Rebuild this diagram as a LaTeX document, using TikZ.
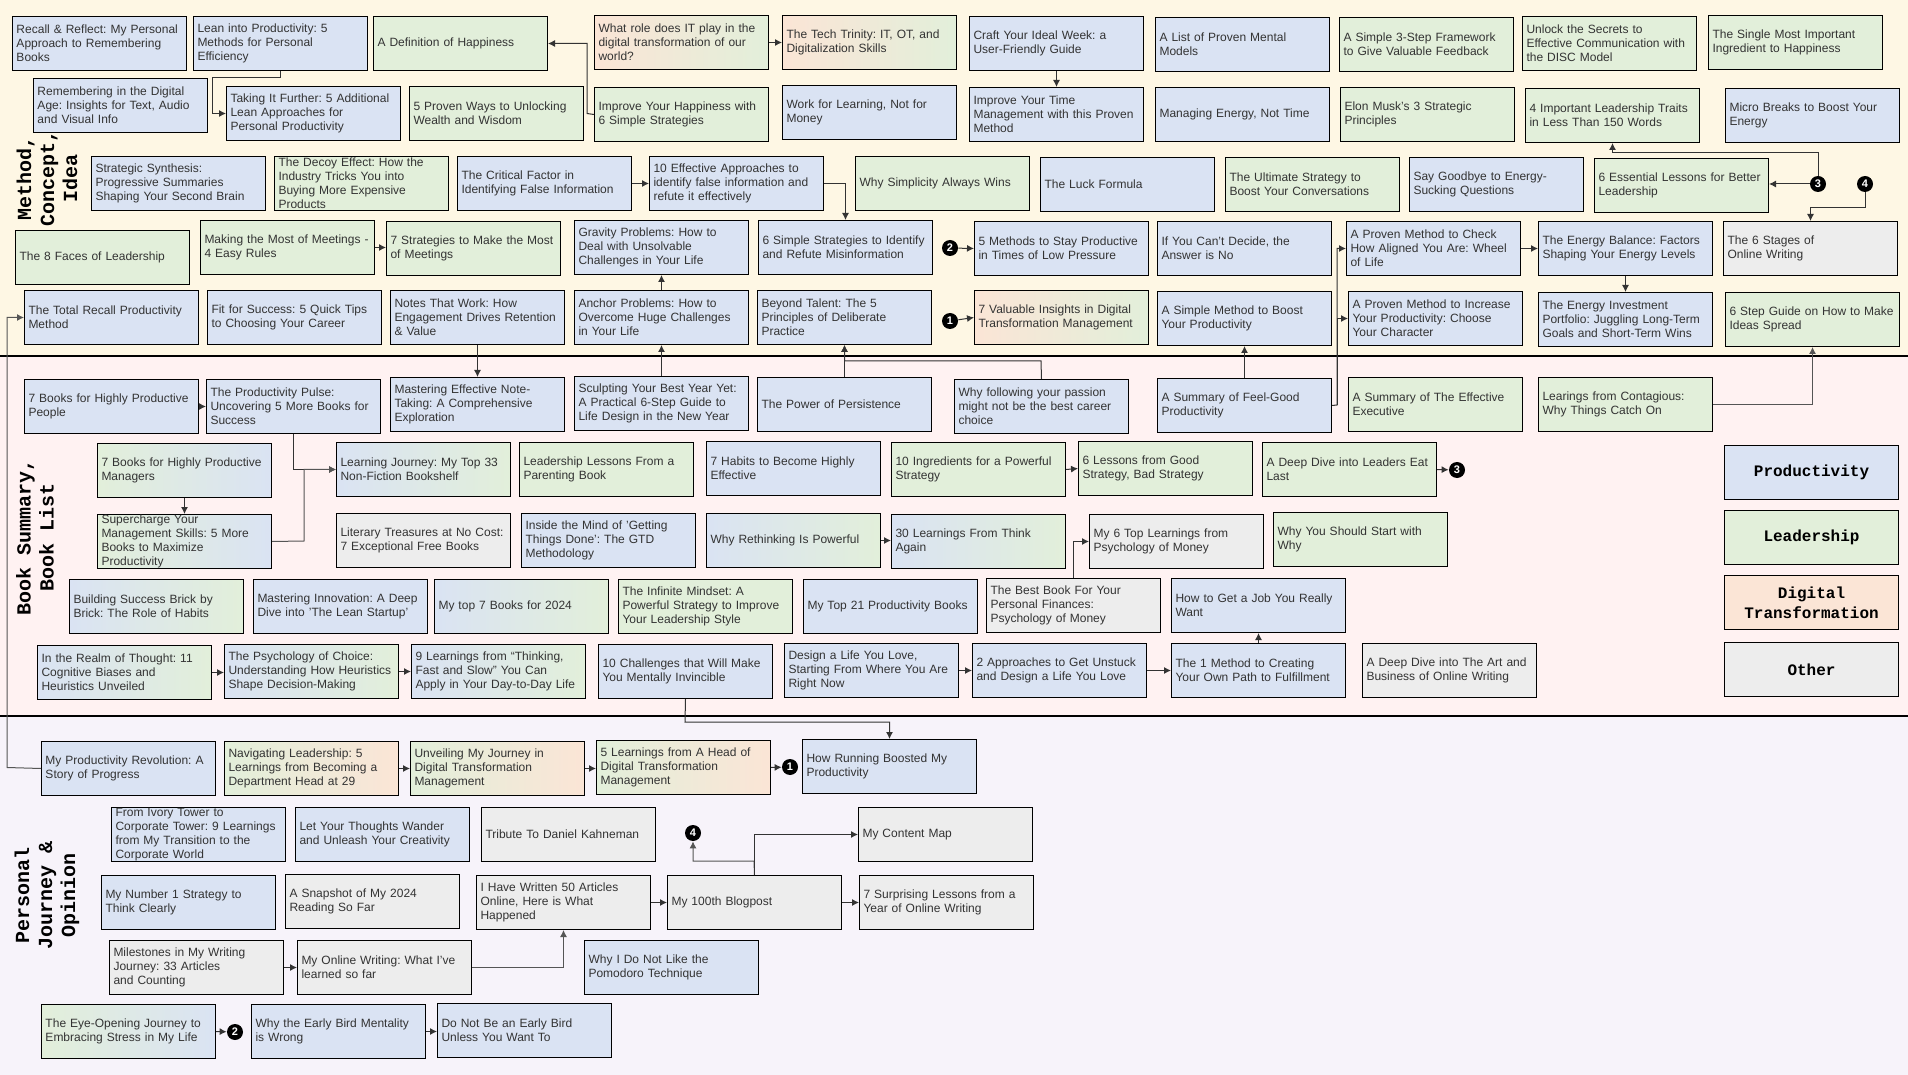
\documentclass[tikz,border=0pt]{standalone}
\usepackage{fontspec}
\setmainfont{Liberation Sans}
\newfontfamily\courfam{Liberation Mono}
\usetikzlibrary{arrows.meta}
\definecolor{cblue}{HTML}{DAE3F3}
\definecolor{cgreen}{HTML}{E2EFDA}
\definecolor{corange}{HTML}{FBE5D6}
\definecolor{cgray}{HTML}{EDEDED}
\definecolor{bgtop}{HTML}{FEF7E4}
\definecolor{bgmid}{HTML}{FFF2F2}
\definecolor{bgbot}{HTML}{F7F3FA}
\definecolor{txt}{HTML}{333333}
\definecolor{lc}{HTML}{333333}
\definecolor{lcg}{HTML}{555555}
\frenchspacing
\newcommand\boxfont{\fontsize{6}{7}\selectfont\frenchspacing\hyphenpenalty=10000\exhyphenpenalty=10000\tolerance=10000}
\newcommand\numfont{\bfseries\fontsize{5.5}{6}\selectfont}
\newcommand\lgdfont{\courfam\bfseries\fontsize{8}{10}\selectfont}
\newcommand\secfont{\courfam\bfseries\fontsize{10}{11.5}\selectfont}
\tikzset{
  bx/.style={draw=black, line width=0.5pt, anchor=north west, minimum width=87pt, minimum height=27pt,
    text width=83pt, inner xsep=2pt, inner ysep=0pt, align=left, font=\boxfont, text=txt},
  fB/.style={fill=cblue}, fG/.style={fill=cgreen}, fO/.style={fill=corange}, fX/.style={fill=cgray},
  fOG/.style={left color=corange, right color=cgreen},
  fGB/.style={left color=cgreen, right color=cblue},
  fBG/.style={left color=cblue, right color=cgreen},
  fGO/.style={left color=cgreen, right color=corange},
  arr/.style={draw=lc, line width=0.5pt, -{Latex[length=3.5pt,width=3.5pt]}},
  arrg/.style={arr, draw=lcg},
  num/.style={circle, fill=black, text=white, minimum size=8pt, inner sep=0pt, font=\numfont},
  lgd/.style={draw=black, line width=0.5pt, anchor=north west, minimum width=87pt, minimum height=27pt,
    align=center, font=\lgdfont, text=black},
  sec/.style={rotate=90, align=center, font=\secfont, text=black}
}
\begin{document}
\begin{tikzpicture}[x=0.5pt,y=-0.5pt]
\useasboundingbox (0,0) rectangle (1908,1075);
\fill[bgtop] (0,0) rectangle (1908,356);
\fill[bgmid] (0,356) rectangle (1908,716);
\fill[bgbot] (0,716) rectangle (1908,1075);
\draw[line width=1pt] (0,356) -- (1908,356);
\draw[line width=1pt] (0,716) -- (1908,716);

\node[sec] (secA) at (47,178) {Method,\\Concept,\\Idea};
\node[sec] (secB) at (35,537) {Book Summary,\\Book List};
\node[sec] (secC) at (47,895) {Personal\\Journey \&\\Opinion};

% ---------- Top section ----------
\node[bx,fB] (Recall) at (12,16) {Recall \& Reflect: My Personal\\Approach to Remembering\\Books};
\node[bx,fB] (Lean) at (193,16) {Lean into Productivity: 5\\Methods for Personal\\Efficiency};
\node[bx,fG] (Definition) at (373,16) {A Definition of Happiness};
\node[bx,fOG] (WhatRole) at (594,15) {What role does IT play in the\\digital transformation of our\\world?};
\node[bx,fOG] (TechTrinity) at (782,15) {The Tech Trinity: IT, OT, and\\Digitalization Skills};
\node[bx,fB] (Craft) at (969,16) {Craft Your Ideal Week: a\\User-Friendly Guide};
\node[bx,fB] (Mental) at (1155,17) {A List of Proven Mental\\Models};
\node[bx,fG] (Feedback) at (1339,17) {A Simple 3-Step Framework\\to Give Valuable Feedback};
\node[bx,fG] (DISC) at (1522,16) {Unlock the Secrets to\\Effective Communication with\\the DISC Model};
\node[bx,fG] (SingleMost) at (1708,15) {The Single Most Important\\Ingredient to Happiness};

\node[bx,fB] (Remembering) at (33,78) {Remembering in the Digital\\Age: Insights for Text, Audio\\and Visual Info};
\node[bx,fB] (TakingIt) at (226,86) {Taking It Further: 5 Additional\\Lean Approaches for\\Personal Productivity};
\node[bx,fG] (ProvenWays) at (409,86) {5 Proven Ways to Unlocking\\Wealth and Wisdom};
\node[bx,fG] (ImproveHappiness) at (594,87) {Improve Your Happiness with\\6 Simple Strategies};
\node[bx,fB] (WorkLearning) at (782,85) {Work for Learning, Not for\\Money};
\node[bx,fB] (ImproveTime) at (969,87) {Improve Your Time\\Management with this Proven\\Method};
\node[bx,fB] (ManagingEnergy) at (1155,87) {Managing Energy, Not Time};
\node[bx,fG] (ElonMusk) at (1340,87) {Elon Musk's 3 Strategic\\Principles};
\node[bx,fG] (FourTraits) at (1525,88) {4 Important Leadership Traits\\in Less Than 150 Words};
\node[bx,fB] (MicroBreaks) at (1725,88) {Micro Breaks to Boost Your\\Energy};

\node[bx,fB] (Strategic) at (91,156) {Strategic Synthesis:\\Progressive Summaries\\Shaping Your Second Brain};
\node[bx,fG] (Decoy) at (274,156) {The Decoy Effect: How the\\Industry Tricks You into\\Buying More Expensive\\Products};
\node[bx,fB] (Critical) at (457,156) {The Critical Factor in\\Identifying False Information};
\node[bx,fB] (TenEffective) at (649,156) {10 Effective Approaches to\\identify false information and\\refute it effectively};
\node[bx,fG] (Simplicity) at (855,156) {Why Simplicity Always Wins};
\node[bx,fB] (Luck) at (1040,157) {The Luck Formula};
\node[bx,fG] (Ultimate) at (1225,157) {The Ultimate Strategy to\\Boost Your Conversations};
\node[bx,fB] (SayGoodbye) at (1409,157) {Say Goodbye to Energy-\\Sucking Questions};
\node[bx,fG] (SixEssential) at (1594,158) {6 Essential Lessons for Better\\Leadership};

\node[bx,fG] (EightFaces) at (15,230) {The 8 Faces of Leadership};
\node[bx,fG] (MakingMost) at (200,220) {Making the Most of Meetings -\\4 Easy Rules};
\node[bx,fG] (SevenStrategies) at (386,221) {7 Strategies to Make the Most\\of Meetings};
\node[bx,fB] (Gravity) at (574,220) {Gravity Problems: How to\\Deal with Unsolvable\\Challenges in Your Life};
\node[bx,fB] (SixSimple) at (758,220) {6 Simple Strategies to Identify\\and Refute Misinformation};
\node[bx,fB] (FiveMethods) at (974,221) {5 Methods to Stay Productive\\in Times of Low Pressure};
\node[bx,fB] (CantDecide) at (1157,221) {If You Can't Decide, the\\Answer is No};
\node[bx,fB] (Wheel) at (1346,221) {A Proven Method to Check\\How Aligned You Are: Wheel\\of Life};
\node[bx,fB] (EnergyBalance) at (1538,221) {The Energy Balance: Factors\\Shaping Your Energy Levels};
\node[bx,fX] (SixStages) at (1723,221) {The 6 Stages of\\Online Writing};

\node[bx,fB] (TotalRecall) at (24,290) {The Total Recall Productivity\\Method};
\node[bx,fB] (FitSuccess) at (207,290) {Fit for Success: 5 Quick Tips\\to Choosing Your Career};
\node[bx,fB] (NotesWork) at (390,290) {Notes That Work: How\\Engagement Drives Retention\\\& Value};
\node[bx,fB] (Anchor) at (574,290) {Anchor Problems: How to\\Overcome Huge Challenges\\in Your Life};
\node[bx,fB] (BeyondTalent) at (757,290) {Beyond Talent: The 5\\Principles of Deliberate\\Practice};
\node[bx,fOG] (SevenValuable) at (974,290) {7 Valuable Insights in Digital\\Transformation Management};
\node[bx,fB] (SimpleMethod) at (1157,291) {A Simple Method to Boost\\Your Productivity};
\node[bx,fB] (ChooseChar) at (1348,291) {A Proven Method to Increase\\Your Productivity: Choose\\Your Character};
\node[bx,fB] (EnergyInvest) at (1538,292) {The Energy Investment\\Portfolio: Juggling Long-Term\\Goals and Short-Term Wins};
\node[bx,fG] (SixStep) at (1725,292) {6 Step Guide on How to Make\\Ideas Spread};

\node[num] (c3a) at (1818,184) {3};
\node[num] (c4a) at (1865,184) {4};
\node[num] (c2a) at (950,248) {2};
\node[num] (c1a) at (950,321) {1};

% ---------- Middle section ----------
\node[bx,fB] (SevenBooksPeople) at (24,379) {7 Books for Highly Productive\\People};
\node[bx,fB] (Pulse) at (206,379) {The Productivity Pulse:\\Uncovering 5 More Books for\\Success};
\node[bx,fB] (MasteringNote) at (390,377) {Mastering Effective Note-\\Taking: A Comprehensive\\Exploration};
\node[bx,fB] (Sculpting) at (574,376) {Sculpting Your Best Year Yet:\\A Practical 6-Step Guide to\\Life Design in the New Year};
\node[bx,fB] (Persistence) at (757,377) {The Power of Persistence};
\node[bx,fB] (Passion) at (954,379) {Why following your passion\\might not be the best career\\choice};
\node[bx,fB] (FeelGood) at (1157,378) {A Summary of Feel-Good\\Productivity};
\node[bx,fG] (EffectiveExec) at (1348,377) {A Summary of The Effective\\Executive};
\node[bx,fG] (Contagious) at (1538,377) {Learings from Contagious:\\Why Things Catch On};

\node[bx,fGB] (Managers) at (97,443) {7 Books for Highly Productive\\Managers};
\node[bx,fBG] (LearningJourney) at (336,442) {Learning Journey: My Top 33\\Non-Fiction Bookshelf};
\node[bx,fG] (Parenting) at (519,442) {Leadership Lessons From a\\Parenting Book};
\node[bx,fB] (SevenHabits) at (706,441) {7 Habits to Become Highly\\Effective};
\node[bx,fG] (TenIngredients) at (891,442) {10 Ingredients for a Powerful\\Strategy};
\node[bx,fG] (GoodStrategy) at (1078,441) {6 Lessons from Good\\Strategy, Bad Strategy};
\node[bx,fG] (LeadersEat) at (1262,442) {A Deep Dive into Leaders Eat\\Last};
\node[num] (c3b) at (1457,470) {3};

\node[bx,fGB] (Supercharge) at (97,514) {Supercharge Your\\Management Skills: 5 More\\Books to Maximize\\Productivity};
\node[bx,fX] (Literary) at (336,513) {Literary Treasures at No Cost:\\7 Exceptional Free Books};
\node[bx,fB] (GTD) at (521,513) {Inside the Mind of 'Getting\\Things Done': The GTD\\Methodology};
\node[bx,fBG] (Rethinking) at (706,513) {Why Rethinking Is Powerful};
\node[bx,fBG] (ThirtyLearnings) at (891,514) {30 Learnings From Think\\Again};
\node[bx,fX] (SixTopMoney) at (1089,514) {My 6 Top Learnings from\\Psychology of Money};
\node[bx,fG] (StartWhy) at (1273,512) {Why You Should Start with\\Why};

\node[bx,fBG] (Brick) at (69,579) {Building Success Brick by\\Brick: The Role of Habits};
\node[bx,fB] (LeanStartup) at (253,579) {Mastering Innovation: A Deep\\Dive into 'The Lean Startup'};
\node[bx,fBG] (TopSeven) at (434,579) {My top 7 Books for 2024};
\node[bx,fG] (Infinite) at (618,579) {The Infinite Mindset: A\\Powerful Strategy to Improve\\Your Leadership Style};
\node[bx,fB] (TopTwentyOne) at (803,579) {My Top 21 Productivity Books};
\node[bx,fX] (BestBook) at (986,578) {The Best Book For Your\\Personal Finances:\\Psychology of Money};
\node[bx,fB] (GetJob) at (1171,578) {How to Get a Job You Really\\Want};

\node[bx,fBG] (Realm) at (37,645) {In the Realm of Thought: 11\\Cognitive Biases and\\Heuristics Unveiled};
\node[bx,fBG] (PsychChoice) at (224,644) {The Psychology of Choice:\\Understanding How Heuristics\\Shape Decision-Making};
\node[bx,fBG] (NineLearnings) at (411,644) {9 Learnings from “Thinking,\\Fast and Slow” You Can\\Apply in Your Day-to-Day Life};
\node[bx,fB] (TenChallenges) at (598,644) {10 Challenges that Will Make\\You Mentally Invincible};
\node[bx,fB] (DesignLife) at (784,643) {Design a Life You Love,\\Starting From Where You Are\\Right Now};
\node[bx,fB] (TwoApproaches) at (972,643) {2 Approaches to Get Unstuck\\and Design a Life You Love};
\node[bx,fB] (OneMethod) at (1171,643) {The 1 Method to Creating\\Your Own Path to Fulfillment};
\node[bx,fX] (ArtBusiness) at (1362,643) {A Deep Dive into The Art and\\Business of Online Writing};

% legend
\node[lgd,fB] (lgProd) at (1724,445) {Productivity};
\node[lgd,fG] (lgLead) at (1724,510) {Leadership};
\node[lgd,fO] (lgDigi) at (1724,575) {Digital\\Transformation};
\node[lgd,fX] (lgOther) at (1724,642) {Other};

% ---------- Bottom section ----------
\node[bx,fB] (ProdRevolution) at (41,741) {My Productivity Revolution: A\\Story of Progress};
\node[bx,fGO] (Navigating) at (224,741) {Navigating Leadership: 5\\Learnings from Becoming a\\Department Head at 29};
\node[bx,fGO] (Unveiling) at (410,741) {Unveiling My Journey in\\Digital Transformation\\Management};
\node[bx,fGO] (FiveLearnHead) at (596,740) {5 Learnings from A Head of\\Digital Transformation\\Management};
\node[num] (c1b) at (790,767) {1};
\node[bx,fB] (Running) at (802,739) {How Running Boosted My\\Productivity};

\node[bx,fB] (Ivory) at (111,807) {From Ivory Tower to\\Corporate Tower: 9 Learnings\\from My Transition to the\\Corporate World};
\node[bx,fB] (Wander) at (295,807) {Let Your Thoughts Wander\\and Unleash Your Creativity};
\node[bx,fX] (Tribute) at (481,807) {Tribute To Daniel Kahneman};
\node[num] (c4b) at (693,833) {4};
\node[bx,fX] (ContentMap) at (858,807) {My Content Map};

\node[bx,fB] (NumberOne) at (101,875) {My Number 1 Strategy to\\Think Clearly};
\node[bx,fX] (Snapshot) at (285,874) {A Snapshot of My 2024\\Reading So Far};
\node[bx,fX] (Fifty) at (476,875) {I Have Written 50 Articles\\Online, Here is What\\Happened};
\node[bx,fX] (Hundredth) at (667,875) {My 100th Blogpost};
\node[bx,fX] (SevenSurprising) at (859,875) {7 Surprising Lessons from a\\Year of Online Writing};

\node[bx,fX] (Milestones) at (109,940) {Milestones in My Writing\\Journey: 33 Articles\\and Counting};
\node[bx,fX] (OnlineWriting) at (297,940) {My Online Writing: What I’ve\\learned so far};
\node[bx,fB] (Pomodoro) at (584,940) {Why I Do Not Like the\\Pomodoro Technique};

\node[bx,fGB] (EyeOpening) at (41,1004) {The Eye-Opening Journey to\\Embracing Stress in My Life};
\node[num] (c2b) at (235,1032) {2};
\node[bx,fB] (EarlyBird) at (251,1004) {Why the Early Bird Mentality\\is Wrong};
\node[bx,fB] (DoNotBe) at (437,1003) {Do Not Be an Early Bird\\Unless You Want To};

% ---------- Connectors ----------
\draw[arr] (Lean.south) |- (212,78) |- (TakingIt.west);
\draw[arr] (ImproveHappiness.west) -- (587,113.5) |- (Definition.east);
\draw[arr] (WhatRole.east) -- (TechTrinity.west);
\draw[arr] (Craft.south) -- (ImproveTime.north);
\draw[arr] (Critical.east) -- (TenEffective.west);
\draw[arr] (TenEffective.east) -| (SixSimple.north);
\draw[arr] (MakingMost.east) -- (MakingMost.east -| SevenStrategies.west);
\draw[arr] (Anchor.north) -- (Gravity.south);
\draw[arr] (c2a) -- (FiveMethods.west);
\draw[arr] (c1a) -- (SevenValuable.west);
\draw[arr] (FeelGood.north) -- (SimpleMethod.south);
\draw[arr] (FeelGood.east) -- (1337,405) |- (Wheel.west);
\draw[arr] (1337,405) |- (ChooseChar.west);
\draw[arr] (Wheel.east) -- (Wheel.east -| EnergyBalance.west);
\draw[arr] (EnergyBalance.south) -- (EnergyInvest.north);
\draw[arr] (c3a) -- (c3a -| SixEssential.east);
\draw[arr] (c3a.north) -- (1818,153) -| (FourTraits.south);
\draw[arr] (c4a.south) -- (1865,208) -| (SixStages.north);
\draw[arrg] (Contagious.east) -| (SixStep.south);
\draw[arr] (NotesWork.south) -- (MasteringNote.north);
\draw[arr] (Sculpting.north) -- (Anchor.south);
\draw[arr] (Persistence.north) -- (BeyondTalent.south);
\draw[arr] (Passion.north) -- (1041,361) -| (BeyondTalent.south);
\draw[arrg] (ProdRevolution.west) -- (7,767.5) |- (TotalRecall.west);
\draw[arr] (SevenBooksPeople.east) -- (Pulse.west);
\draw[arr] (Pulse.south) |- (LearningJourney.west);
\draw[arrg] (Supercharge.east) -- (304,541) |- (LearningJourney.west);
\draw[arr] (Managers.south) -- (Supercharge.north);
\draw[arr] (TenIngredients.east) -- (GoodStrategy.west);
\draw[arr] (LeadersEat.east) -- (c3b);
\draw[arr] (Rethinking.east) -- (Rethinking.east -| ThirtyLearnings.west);
\draw[arr] (BestBook.north) |- (SixTopMoney.west);
\draw[arr] (Realm.east) -- (Realm.east -| PsychChoice.west);
\draw[arr] (PsychChoice.east) -- (NineLearnings.west);
\draw[arr] (DesignLife.east) -- (DesignLife.east -| TwoApproaches.west);
\draw[arr] (TwoApproaches.east) -- (OneMethod.west);
\draw[arr] (OneMethod.north) -- (GetJob.south);
\draw[arr] (TenChallenges.south) -- (685,722) -| (Running.north);
\draw[arr] (Navigating.east) -- (Unveiling.west);
\draw[arr] (Unveiling.east) -- (Unveiling.east -| FiveLearnHead.west);
\draw[arr] (FiveLearnHead.east) -- (c1b);
\draw[arr] (Milestones.east) -- (OnlineWriting.west);
\draw[arrg] (OnlineWriting.east) -| (Fifty.south);
\draw[arr] (Fifty.east) -- (Hundredth.west);
\draw[arr] (Hundredth.east) -- (SevenSurprising.west);
\draw[arrg] (Hundredth.north) -- (754,861) -| (c4b.south);
\draw[arr] (Hundredth.north) |- (ContentMap.west);
\draw[arr] (EyeOpening.east) -- (c2b);
\draw[arr] (EarlyBird.east) -- (EarlyBird.east -| DoNotBe.west);
\end{tikzpicture}
\end{document}
